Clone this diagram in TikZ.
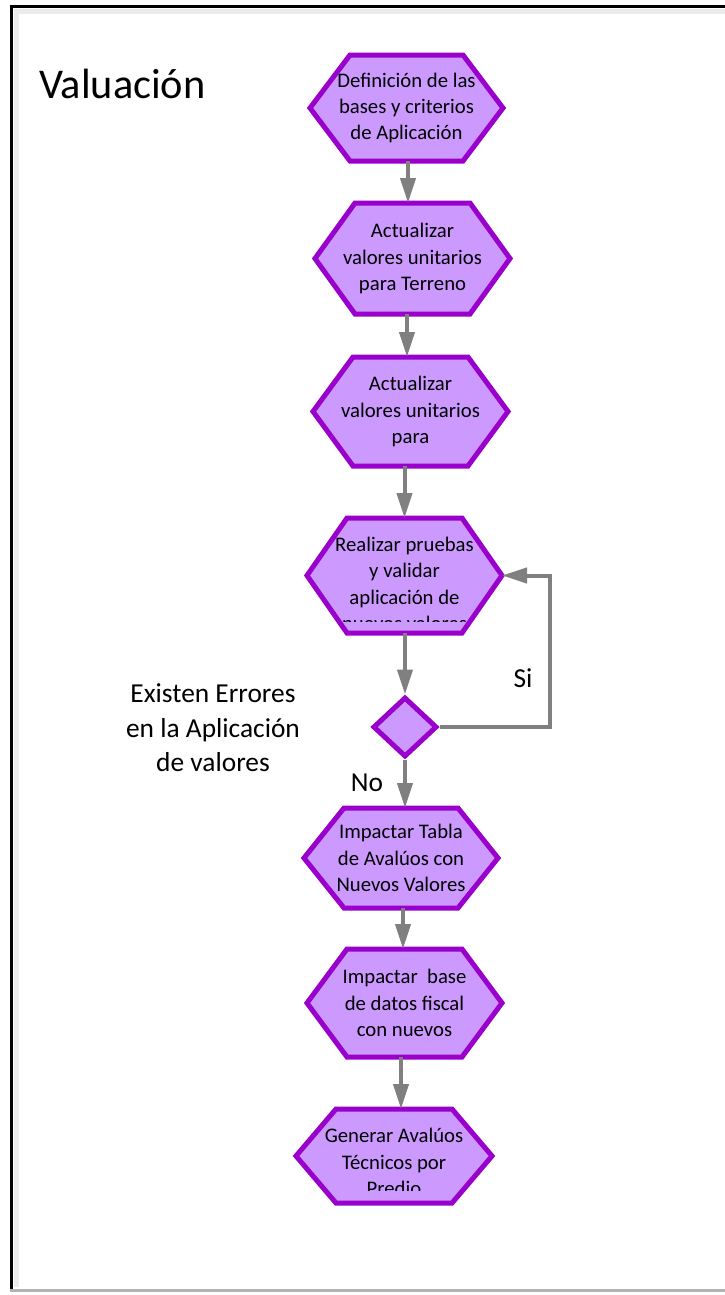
\documentclass[tikz,border=0pt]{standalone}
\usepackage{fontspec}
\setmainfont{Carlito}
\usetikzlibrary{arrows.meta,shapes.geometric,backgrounds}

\definecolor{hexfill}{RGB}{204,153,255}
\definecolor{hexline}{RGB}{153,0,204}
\definecolor{flowgray}{RGB}{128,128,128}

% horizontal inset of the slanted hexagon sides
\newcommand{\hexcut}{40bp}
% hexagon outline around a rectangular node, drawn behind the text
\newcommand{\hexoutline}[1]{%
  \path[hexpath] (#1.west) -- ([xshift=\hexcut]#1.north west)
    -- ([xshift=-\hexcut]#1.north east) -- (#1.east)
    -- ([xshift=-\hexcut]#1.south east) -- ([xshift=\hexcut]#1.south west)
    -- cycle;}

\tikzset{
  hexnode/.style={shape=rectangle, inner sep=0pt, outer sep=2.5bp, align=center,
    font=\fontsize{20.8}{26.5}\selectfont, text=black},
  hexpath/.style={fill=hexfill, draw=hexline, line width=5bp, line join=miter},
  decision/.style={shape=diamond, fill=hexfill, draw=hexline, line width=5bp,
    minimum width=64bp, minimum height=60bp, inner sep=0pt},
  flowarrow/.style={draw=flowgray, line width=4bp,
    -{Triangle[length=25bp,width=15bp]}},
  notetext/.style={inner sep=0pt, align=center, font=\fontsize{27.5}{34.5}\selectfont},
  titletext/.style={inner sep=0pt, font=\fontsize{42.5}{50}\selectfont},
}

\begin{document}
\begin{tikzpicture}[x=1bp,y=-1bp]
\useasboundingbox (0,0) rectangle (725,1295);

% page frame with its soft inner shadow
\draw[black!8, line width=5bp] (16,1287) -- (16,11) -- (725,11);
\draw[black, line width=2.8bp] (11.5,1291) -- (11.5,6.5) -- (725,6.5);
\draw[black!30, line width=3bp] (10,1290.5) -- (725,1290.5);

% title
\node[titletext, anchor=base west] (title) at (39,98) {Valuación};

% process steps
\node[hexnode, minimum width=188bp, minimum height=101bp] (h1) at (406.5,108)
  {Definición de las\\bases y criterios\\de Aplicación};
\node[hexnode, minimum width=190bp, minimum height=106bp] (h2) at (412.5,258.5)
  {Actualizar\\valores unitarios\\para Terreno};
\node[hexnode, minimum width=190bp, minimum height=104bp] (h3) at (410.5,411.5)
  {Actualizar\\valores unitarios\\para};
\node[hexnode, minimum width=190bp, minimum height=110bp] (h4) at (404.5,575.5) {};
\begin{scope}
  \clip (290,510) rectangle (520,621);
  \node[hexnode] (h4text) at (404.5,584)
    {Realizar pruebas\\y validar\\aplicación de\\nuevos valores};
\end{scope}
\node[decision] (d) at (405,727) {};
\node[hexnode, minimum width=189bp, minimum height=95bp] (h5) at (401,858)
  {Impactar Tabla\\de Avalúos con\\Nuevos Valores};
\node[hexnode, minimum width=190bp, minimum height=103bp] (h6) at (404.5,1003)
  {Impactar\ \ base\\de datos fiscal\\con nuevos};
\node[hexnode, minimum width=191bp, minimum height=89bp] (h7) at (394,1156) {};
\begin{scope}
  \clip (280,1100) rectangle (510,1190.5);
  \node[hexnode] (h7text) at (394,1162)
    {Generar Avalúos\\Técnicos por\\Predio};
\end{scope}

\begin{scope}[on background layer]
  \fill[white] (0,0) rectangle (725,1295);
  \hexoutline{h1}
  \hexoutline{h2}
  \hexoutline{h3}
  \hexoutline{h4}
  \hexoutline{h5}
  \hexoutline{h6}
  \hexoutline{h7}
\end{scope}

% decision texts
\node[notetext] (question) at (213,728)
  {Existen Errores\\en la Aplicación\\de valores};
\node[notetext] (yes) at (523,678) {Si};
\node[notetext] (no) at (367,783) {No};

% connectors
\draw[flowarrow] ([xshift=1.5bp]h1.south) -- ([xshift=1.5bp]h1.south |- h2.north);
\draw[flowarrow] ([xshift=-3.5bp]h3.north |- h2.south) -- ([xshift=-3.5bp]h3.north);
\draw[flowarrow] (h4.north |- h3.south) -- (h4.north);
\draw[flowarrow] (d.north |- h4.south) -- (d.north);
\draw[flowarrow] (d.south) -- (d.south |- h5.north);
\draw[flowarrow] ([xshift=2bp]h5.south) -- ([xshift=2bp]h5.south |- h6.north);
\draw[flowarrow] ([xshift=-3.5bp]h6.south) -- ([xshift=-3.5bp]h6.south |- h7.north);

% "Si" branch back to the test step
\coordinate (loopx) at (550,650);
\draw[flowarrow] (d.east) -- (d.east -| loopx) |- (h4.east);
\end{tikzpicture}
\end{document}
